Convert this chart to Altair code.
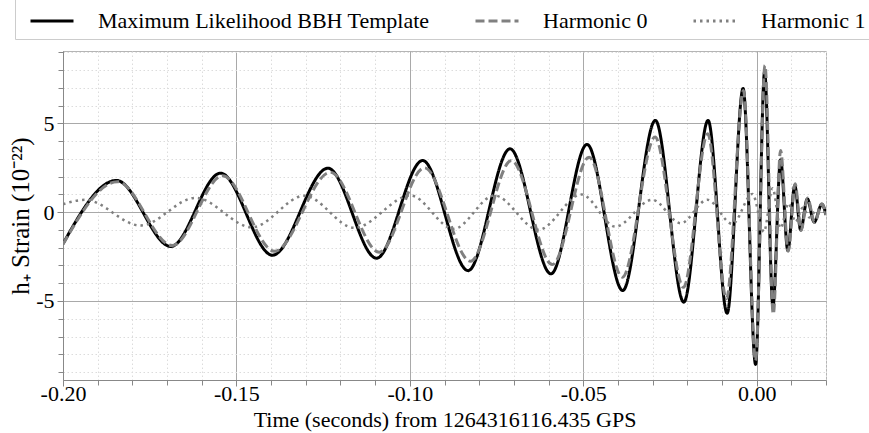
import altair as alt
import pandas as pd

FONT = "Liberation Serif, Times New Roman, serif"

SERIES = ["Maximum Likelihood BBH Template", "Harmonic 0", "Harmonic 1"]

# Maximum likelihood template: extrema (time s, strain 1e-22)
ml_t = [-0.2000, -0.1846, -0.1689, -0.1546, -0.1396, -0.1236, -0.1096, -0.0963,
        -0.0832, -0.0711, -0.0593, -0.0489, -0.0386, -0.0292, -0.0210, -0.0140,
        -0.0085, -0.0039, -0.0003, 0.0023, 0.0047, 0.0069, 0.0090, 0.0110,
        0.0127, 0.0146, 0.0166, 0.0188, 0.0200]
ml_h = [-1.78, 1.79, -1.93, 2.20, -2.42, 2.48, -2.59, 2.91,
        -3.29, 3.57, -3.47, 3.82, -4.41, 5.17, -5.07, 5.17,
        -5.69, 6.97, -8.57, 7.90, -5.30, 2.95, -2.16, 1.50,
        -1.00, 0.75, -0.56, 0.45, -0.15]

# Harmonic 0
h0_t = [-0.2000, -0.1843, -0.1685, -0.1540, -0.1390, -0.1229, -0.1088, -0.0958,
        -0.0825, -0.0707, -0.0589, -0.0483, -0.0387, -0.0293, -0.0211, -0.0141,
        -0.0087, -0.0038, -0.0003, 0.0024, 0.0048, 0.0069, 0.0091, 0.0111,
        0.0128, 0.0147, 0.0167, 0.0188, 0.0200]
h0_h = [-1.80, 1.72, -1.88, 2.05, -2.20, 2.25, -2.25, 2.50,
        -2.76, 2.91, -2.95, 3.10, -3.66, 4.23, -4.23, 4.42,
        -4.88, 6.86, -8.36, 8.27, -5.73, 3.48, -2.20, 1.60,
        -1.03, 0.80, -0.58, 0.47, -0.15]

# Harmonic 1
h1_t = [-0.2000, -0.1936, -0.1777, -0.1618, -0.1455, -0.1304, -0.1160, -0.0998,
        -0.0874, -0.0756, -0.0629, -0.0505, -0.0407, -0.0301, -0.0219, -0.0142,
        -0.0070, -0.0012, 0.0021, 0.0046, 0.0069, 0.0092, 0.0112, 0.0133,
        0.0153, 0.0173, 0.0200]
h1_h = [0.45, 0.70, -0.75, 0.81, -0.85, 0.93, -0.88, 0.94,
        -0.94, 0.94, -0.99, 1.00, -0.81, 0.70, -0.62, 0.70,
        -0.66, 1.03, -1.10, 1.35, -0.90, 0.50, -0.55, 0.25,
        -0.30, 0.15, -0.05]

x_ticks = [round(-0.20 + 0.01 * i, 2) + 0.0 for i in range(23)]
y_ticks = list(range(-9, 10))

df_ml = pd.DataFrame({"t": ml_t, "h": ml_h, "series": SERIES[0]})
df_h0 = pd.DataFrame({"t": h0_t, "h": h0_h, "series": SERIES[1]})
df_h1 = pd.DataFrame({"t": h1_t, "h": h1_h, "series": SERIES[2]})

MAJ_X = "abs(round(datum.value * 100)) % 5 === 0"
MAJ_Y = "abs(round(datum.value)) % 5 === 0"

legend = alt.Legend(
    title=None, orient="none", legendX=-48, legendY=-60, direction="horizontal",
    symbolType="stroke", symbolSize=1849, symbolStrokeWidth=3,
    labelFont=FONT, labelFontSize=22, labelColor="black", labelLimit=600,
    labelOffset=23, columnPadding=37, padding=7,
    strokeColor="#cccccc", fillColor="white", symbolOffset=7,
)

color = alt.Color("series:N", scale=alt.Scale(domain=SERIES, range=["#000000", "#808080", "#808080"]), legend=legend)
dash = alt.StrokeDash("series:N", scale=alt.Scale(domain=SERIES, range=[[1, 0], [9, 4], [2.5, 4]]), legend=legend)

common_axis = dict(
    labelFont=FONT, labelFontSize=22, labelColor="black", labelOverlap=False,
    titleFont=FONT, titleFontWeight="normal", titleColor="black",
    domainColor="#888888", tickColor="#888888", grid=True,
)

x = alt.X(
    "t:Q",
    scale=alt.Scale(domain=[-0.2, 0.02], nice=False, zero=False),
    axis=alt.Axis(
        values=x_ticks,
        title="Time (seconds) from 1264316116.435 GPS",
        titleFontSize=22,
        labelExpr=MAJ_X + " ? replace(format(datum.value, '.2f'), '\u2212', '-') : ''",
        labelFlush=False,
        labelPadding=-3,
        titlePadding=5,
        tickSize={"condition": {"test": MAJ_X, "value": 6}, "value": 5},
        gridDash={"condition": {"test": MAJ_X, "value": []}, "value": [1.5, 2.5]},
        gridColor={"condition": {"test": MAJ_X, "value": "#a9a9a9"}, "value": "#dcdcdc"},
        **common_axis,
    ),
)
y = alt.Y(
    "h:Q",
    scale=alt.Scale(domain=[-9.45, 9.08], nice=False, zero=False),
    axis=alt.Axis(
        values=y_ticks,
        title="h\u208a Strain (10\u207b\u00b2\u00b2)",
        titleFontSize=25,
        labelExpr=MAJ_Y + " ? '' + datum.value : ''",
        labelPadding=3,
        titlePadding=2,
        tickSize={"condition": {"test": MAJ_Y, "value": 6}, "value": 5},
        gridDash={"condition": {"test": MAJ_Y, "value": []}, "value": [1.5, 2.5]},
        gridColor={"condition": {"test": MAJ_Y, "value": "#a9a9a9"}, "value": "#dcdcdc"},
        **common_axis,
    ),
)

ml = alt.Chart(df_ml).mark_line(interpolate="monotone", strokeWidth=3, clip=True).encode(
    x=x, y=y, color=color, strokeDash=dash)
h0 = alt.Chart(df_h0).mark_line(interpolate="monotone", strokeWidth=3, clip=True).encode(
    x=x, y=y, color=color, strokeDash=dash)
h1 = alt.Chart(df_h1).mark_line(interpolate="monotone", strokeWidth=2.5, clip=True).encode(
    x=x, y=y, color=color, strokeDash=dash)

chart = (
    alt.layer(ml, h0, h1)
    .properties(
        width=763, height=329,
        autosize=alt.AutoSizeParams(type="none"),
        padding={"left": 63, "top": 51, "right": 43, "bottom": 53},
        background="white",
    )
    .configure_view(stroke="#b5b5b5", strokeWidth=1)
)

chart.save("out.html", embed_options={"renderer": "svg", "actions": False})
